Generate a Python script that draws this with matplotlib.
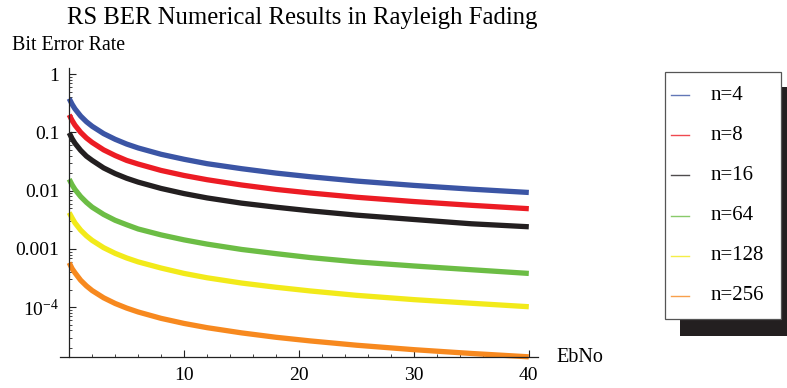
import matplotlib
matplotlib.use("Agg")
import matplotlib.pyplot as plt
from matplotlib.patches import Rectangle
from matplotlib.lines import Line2D
from matplotlib.ticker import LogLocator, FixedLocator, NullFormatter, FixedFormatter

plt.rcParams['font.family'] = ['Liberation Serif', 'DejaVu Serif']
plt.rcParams['mathtext.fontset'] = 'custom'
plt.rcParams['mathtext.rm'] = 'Liberation Serif'
plt.rcParams['mathtext.it'] = 'Liberation Serif:italic'

# ---- data ----
ebno = [0, 0.25, 0.5, 1, 1.5, 2, 3, 4, 5, 6, 8, 10, 12, 15, 18, 21, 25, 30, 35, 40]
labels = ["n=4", "n=8", "n=16", "n=64", "n=128", "n=256"]
ber_n4 = [0.38, 0.304, 0.253, 0.19, 0.152, 0.127, 0.095, 0.076, 0.063, 0.054, 0.042,
          0.0345, 0.029, 0.0238, 0.020, 0.0173, 0.0146, 0.0123, 0.0106, 0.0093]
ber_n8 = [0.20, 0.16, 0.133, 0.10, 0.080, 0.067, 0.050, 0.040, 0.033, 0.0286, 0.0222,
          0.0182, 0.0154, 0.0125, 0.0105, 0.0091, 0.0077, 0.0065, 0.0056, 0.0049]
ber_n16 = [0.098, 0.078, 0.065, 0.049, 0.039, 0.033, 0.0245, 0.0196, 0.0163, 0.014, 0.0109,
           0.0089, 0.0075, 0.0061, 0.0052, 0.0045, 0.0038, 0.0032, 0.0027, 0.0024]
ber_n64 = [0.0157, 0.0126, 0.0105, 0.0079, 0.0063, 0.0052, 0.0039, 0.0031, 0.0026, 0.0022,
           0.00174, 0.00143, 0.00121, 0.00098, 0.00083, 0.00071, 0.0006, 0.00051, 0.00044, 0.00038]
ber_n128 = [0.0042, 0.0034, 0.0028, 0.0021, 0.00168, 0.0014, 0.00105, 0.00084, 0.0007, 0.0006,
            0.00047, 0.00038, 0.00032, 0.00026, 0.00022, 0.00019, 0.00016, 0.000135, 0.000117, 0.000102]
ber_n256 = [0.00058, 0.00046, 0.00039, 0.00029, 0.000232, 0.000193, 0.000145, 0.000116,
            0.0000967, 0.0000829, 0.0000644, 0.0000527, 0.0000446, 0.0000363, 0.0000305,
            0.0000264, 0.0000223, 0.0000187, 0.0000161, 0.0000141]
series = [ber_n4, ber_n8, ber_n16, ber_n64, ber_n128, ber_n256]
colors = ["#3B55A5", "#EC1C24", "#231F20", "#6CBD45", "#F2EA1A", "#F7891F"]

x_ticks = [10, 20, 30, 40]
y_ticks = [1, 0.1, 0.01, 0.001, 1e-4]
y_ticklabels = ["1", "0.1", "0.01", "0.001", r"$10^{-4}$"]

W, H = 787, 388
fig = plt.figure(figsize=(W / 100, H / 100), dpi=100)
ax = fig.add_axes([60 / W, 1 - 357 / H, (538 - 60) / W, (357 - 68) / H])

for ys, c in zip(series, colors):
    ax.plot(ebno, ys, color=c, lw=3.8, solid_capstyle='butt', clip_on=False)

ax.set_yscale('log')
ax.set_xlim(-0.8, 40.8)
ax.set_ylim(1.4e-5, 1.27)

for s in ['top', 'right']:
    ax.spines[s].set_visible(False)
ax.spines['left'].set_position(('data', 0))
for s in ['left', 'bottom']:
    ax.spines[s].set_linewidth(0.9)
    ax.spines[s].set_color('#222222')

ax.xaxis.set_major_locator(FixedLocator(x_ticks))
ax.xaxis.set_minor_locator(FixedLocator([v for v in range(2, 41, 2) if v not in x_ticks]))
ax.yaxis.set_major_locator(FixedLocator(y_ticks))
ax.yaxis.set_major_formatter(FixedFormatter(y_ticklabels))
ax.yaxis.set_minor_locator(LogLocator(base=10, subs=range(2, 10), numticks=20))
ax.yaxis.set_minor_formatter(NullFormatter())

ax.tick_params(axis='both', which='major', direction='in', length=5, width=0.8,
               labelsize=14, color='#222222', pad=7)
ax.tick_params(axis='both', which='minor', direction='in', length=2.5, width=0.6,
               color='#222222')
ax.tick_params(axis='y', which='both', left=True, right=False)

fig.text(302 / W, 1 - 18 / H, "RS BER Numerical Results in Rayleigh Fading",
         ha='center', va='center', fontsize=17.8)
fig.text(12 / W, 1 - 45 / H, "Bit Error Rate", ha='left', va='center', fontsize=14.4)
fig.text(556 / W, 1 - 357 / H, "EbNo", ha='left', va='center', fontsize=14.5)

# legend box with shadow
fig.patches.append(Rectangle((680 / W, 1 - 336 / H), (800 - 680) / W, (336 - 87) / H,
                             transform=fig.transFigure, facecolor='#231F20',
                             edgecolor='none', zorder=1))
fig.patches.append(Rectangle((665 / W, 1 - 319 / H), (781 - 665) / W, (319 - 72) / H,
                             transform=fig.transFigure, facecolor='white',
                             edgecolor='#555555', lw=0.9, zorder=2))
for i, (lab, c) in enumerate(zip(labels, colors)):
    yy = 1 - (95 + i * 40.2) / H
    fig.lines.append(Line2D([671 / W, 689 / W], [yy, yy], transform=fig.transFigure,
                            color=c, lw=1.0, alpha=0.8, zorder=3))
    fig.text(711 / W, yy, lab, ha='left', va='center', fontsize=15, zorder=3)

fig.savefig("out.png", dpi=100)
